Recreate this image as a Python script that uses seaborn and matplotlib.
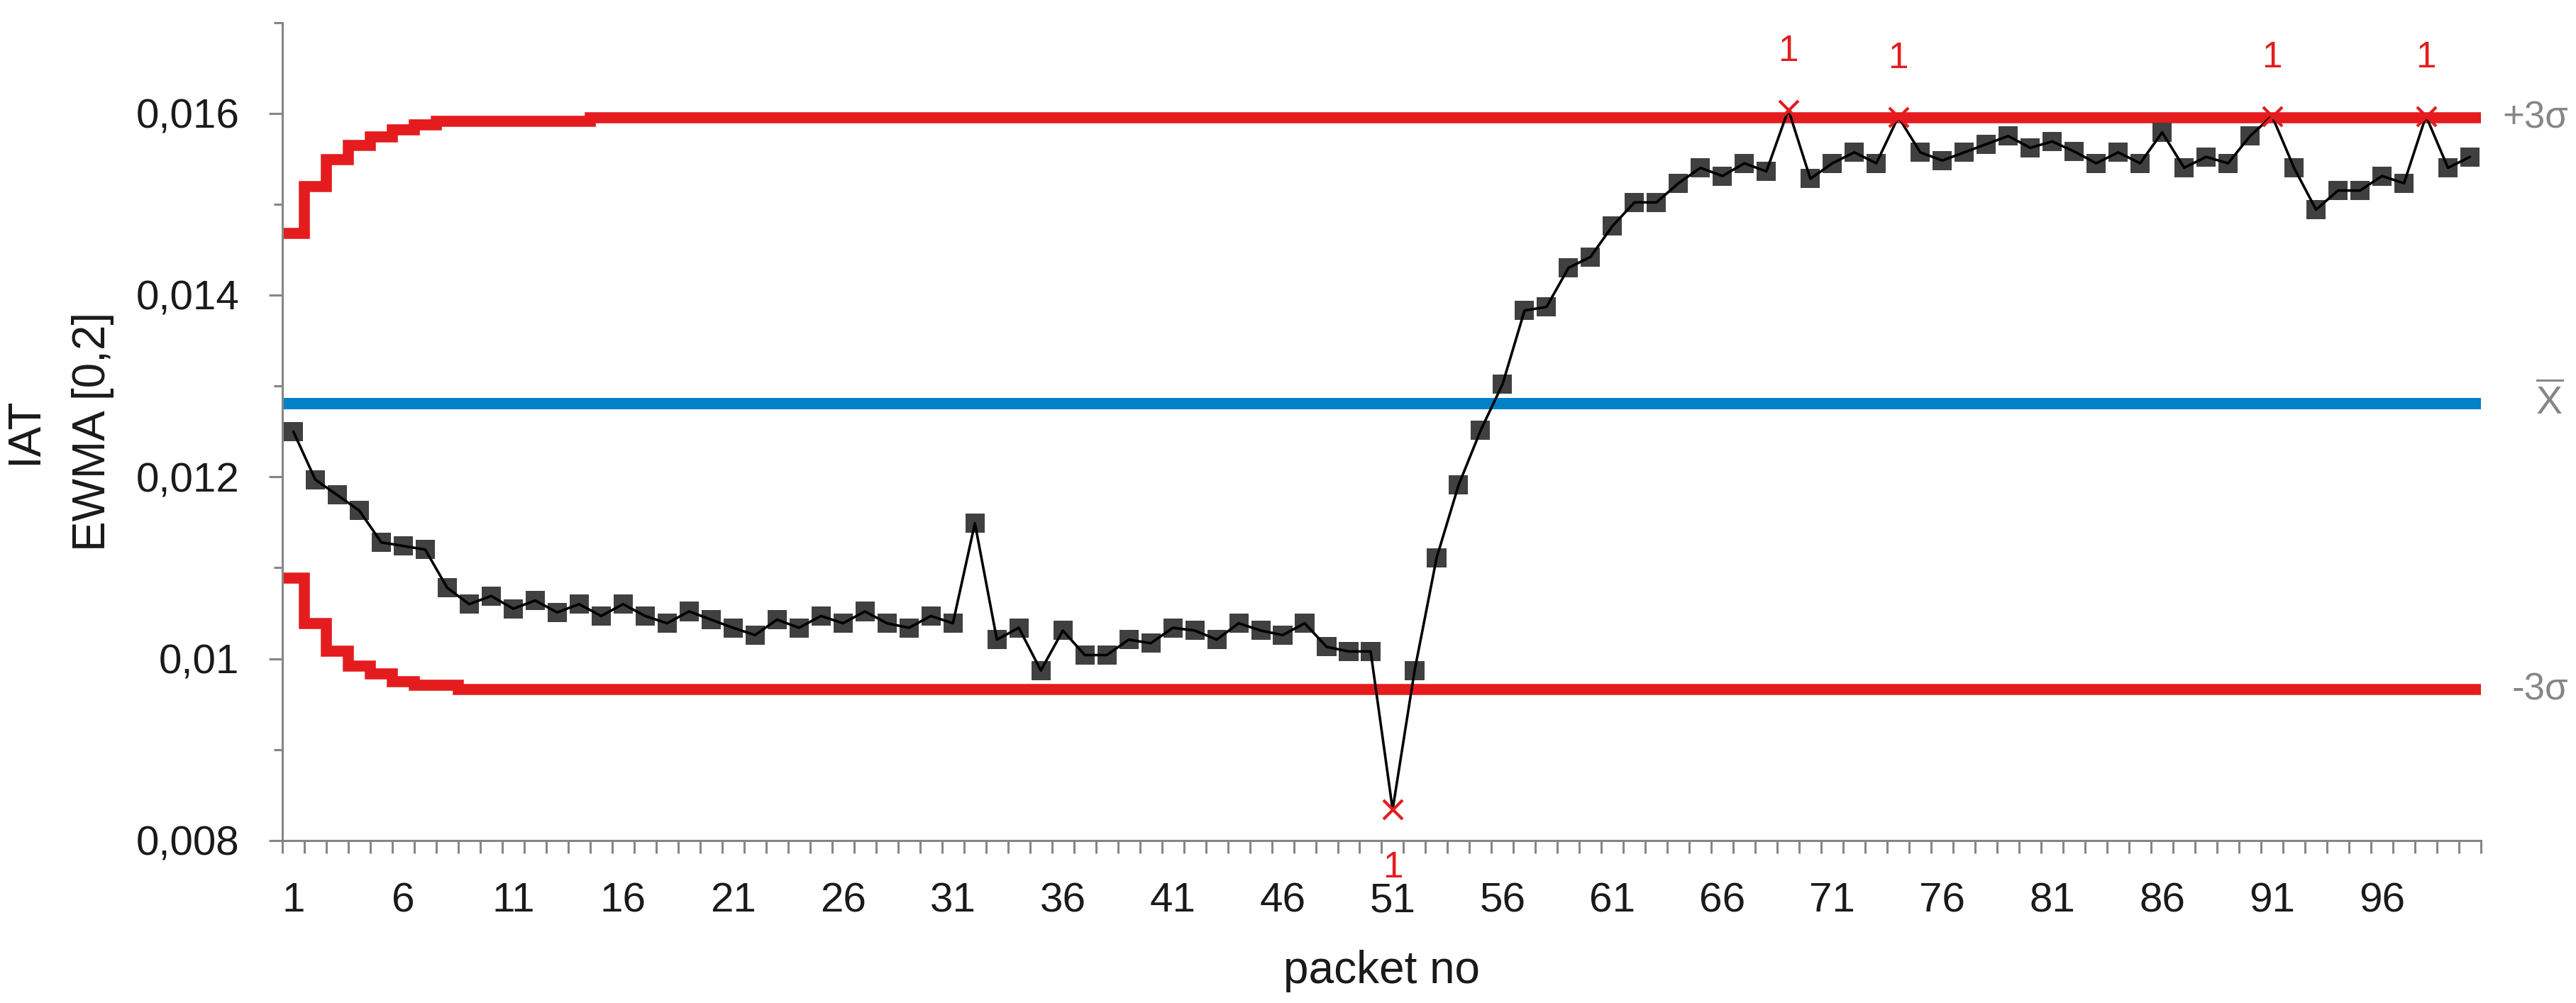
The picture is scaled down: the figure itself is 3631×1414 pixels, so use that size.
import numpy as np
import pandas as pd
import matplotlib
matplotlib.use('Agg')
import matplotlib.pyplot as plt
import matplotlib.transforms as mtransforms
import seaborn as sns

# EWMA (lambda = 0,2) of the inter-arrival time
packets = list(range(1, 101))
ewma = [
    0.01250, 0.01197, 0.01180, 0.01163, 0.01128, 0.01124, 0.01120, 0.01078, 0.01060, 0.01069,
    0.01055, 0.01064, 0.01051, 0.01060, 0.01047, 0.01060, 0.01047, 0.01039, 0.01052, 0.01043,
    0.01034, 0.01026, 0.01043, 0.01034, 0.01047, 0.01039, 0.01052, 0.01039, 0.01034, 0.01047,
    0.01039, 0.01149, 0.01021, 0.01034, 0.00987, 0.01031, 0.01004, 0.01004, 0.01021, 0.01017,
    0.01034, 0.01031, 0.01021, 0.01039, 0.01031, 0.01026, 0.01039, 0.01013, 0.01008, 0.01008,
    0.00834, 0.00987, 0.01111, 0.01191, 0.01251, 0.01302, 0.01383, 0.01387, 0.01430, 0.01442,
    0.01476, 0.01502, 0.01502, 0.01523, 0.01540, 0.01531, 0.01545, 0.01536, 0.01604, 0.01528,
    0.01545, 0.01557, 0.01545, 0.01596, 0.01557, 0.01548, 0.01557, 0.01566, 0.01575, 0.01562,
    0.01569, 0.01558, 0.01545, 0.01557, 0.01545, 0.01579, 0.01540, 0.01552, 0.01545, 0.01575,
    0.01597, 0.01540, 0.01494, 0.01515, 0.01515, 0.01531, 0.01523, 0.01597, 0.01540, 0.01552,
]

# control limits (step-wise at the start, then constant)
ucl_start = [0.01468, 0.01519, 0.01549, 0.01565, 0.01574, 0.01582, 0.01587,
             0.01591, 0.01591, 0.01591, 0.01591, 0.01591, 0.01591, 0.01591]
ucl_level = 0.01595
lcl_start = [0.01089, 0.01039, 0.01008, 0.00992, 0.00983, 0.00975, 0.00971, 0.00971]
lcl_level = 0.00966
mean_iat = 0.01281

ucl = ucl_start + [ucl_level] * (len(packets) - len(ucl_start))
lcl = lcl_start + [lcl_level] * (len(packets) - len(lcl_start))

# out-of-control packets (flagged with "1")
ooc_packets = [51, 69, 74, 91, 98]

xtick_pos = list(range(1, 100, 5))
xtick_labels = [str(p) for p in xtick_pos]
ytick_pos = [0.008, 0.010, 0.012, 0.014, 0.016]
ytick_labels = ['0,008', '0,01', '0,012', '0,014', '0,016']
yminor_pos = [0.009, 0.011, 0.013, 0.015, 0.017]

df = pd.DataFrame({'packet': packets, 'ewma': ewma, 'ucl': ucl, 'lcl': lcl})
df['ooc'] = df['packet'].isin(ooc_packets)

sns.set_style('white')
plt.rcParams['font.family'] = ['Liberation Sans', 'DejaVu Sans']
plt.rcParams['mathtext.fontset'] = 'custom'
plt.rcParams['mathtext.rm'] = 'Liberation Sans'

RED = '#E41C1E'
BLUE = '#0081C8'
GREY = '#868686'

fig = plt.figure(figsize=(36.31, 14.14), dpi=100)
ax = fig.add_axes([0.1096, 0.1620, 0.8535, 0.8157])

edges = np.append(df['packet'].values - 0.5, df['packet'].values[-1] + 0.5)
ax.stairs(df['ucl'], edges, baseline=None, color=RED, linewidth=11.2, zorder=2)
ax.stairs(df['lcl'], edges, baseline=None, color=RED, linewidth=11.2, zorder=2)
ax.axhline(mean_iat, color=BLUE, linewidth=11.5, zorder=2)

sns.scatterplot(data=df[~df['ooc']], x='packet', y='ewma', marker='s', s=380,
                color='#404040', edgecolor='none', linewidth=0, zorder=3, ax=ax, legend=False)
sns.lineplot(data=df, x='packet', y='ewma', color='black', linewidth=2.6, zorder=4, ax=ax)
sns.scatterplot(data=df[df['ooc']], x='packet', y='ewma', marker='x', s=380,
                color=RED, linewidth=3, zorder=5, ax=ax, legend=False)

for _, row in df[df['ooc']].iterrows():
    dy = 59 if row['ewma'] > mean_iat else -59
    ax.annotate('1', (row['packet'], row['ewma']), xytext=(0, dy),
                textcoords='offset points', ha='center', va='center',
                color=RED, fontsize=37, zorder=6, annotation_clip=False)

# labels of the limit lines on the right
trans = mtransforms.blended_transform_factory(ax.transAxes, ax.transData)
ax.text(1.0397, ucl_level, '+3σ', transform=trans, ha='right', va='center',
        color=GREY, fontsize=38)
ax.text(1.031, mean_iat, r'$\overline{\mathrm{X}}$', transform=trans, ha='center',
        va='center', color=GREY, fontsize=40)
ax.text(1.0397, lcl_level, '-3σ', transform=trans, ha='right', va='center',
        color=GREY, fontsize=38)

ax.set_xlim(0.5, 100.5)
ax.set_ylim(0.008, 0.017)

ax.set_xticks(xtick_pos)
ax.set_xticklabels(xtick_labels)
ax.set_xticks(edges, minor=True)
ax.set_yticks(ytick_pos)
ax.set_yticklabels(ytick_labels)
ax.set_yticks(yminor_pos, minor=True)

ax.tick_params(axis='x', which='major', length=0, pad=42, labelsize=42, labelcolor='#1a1a1a')
ax.tick_params(axis='x', which='minor', length=13, width=2.2, color=GREY, direction='out')
ax.tick_params(axis='y', which='major', length=13.7, width=2.2, color=GREY, direction='out',
               pad=30, labelsize=42, labelcolor='#1a1a1a')
ax.tick_params(axis='y', which='minor', length=8.6, width=2.2, color=GREY, direction='out')
ax.tick_params(bottom=True, left=True, which='both')

for side in ['top', 'right']:
    ax.spines[side].set_visible(False)
for side in ['left', 'bottom']:
    ax.spines[side].set_color(GREY)
    ax.spines[side].set_linewidth(2.2)

ax.set_xlabel('packet no', fontsize=46, color='#1a1a1a', labelpad=30)
ax.set_ylabel('IAT\nEWMA [0,2]', fontsize=46, color='#1a1a1a', labelpad=22, linespacing=1.75)

fig.savefig('out.png', dpi=100, facecolor='white')
